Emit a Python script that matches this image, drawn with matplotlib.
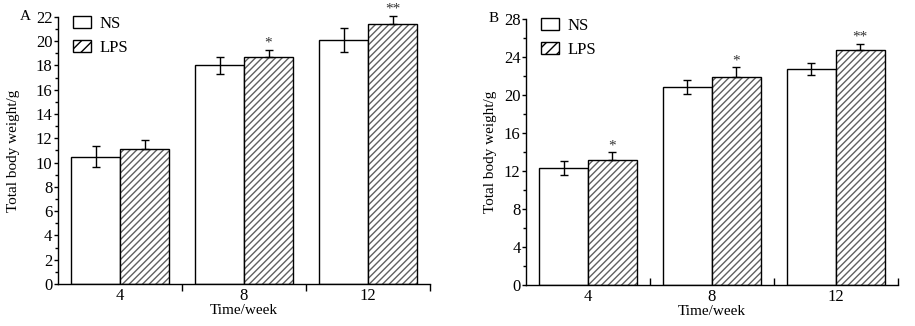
import numpy as np
import matplotlib
matplotlib.use("Agg")
import matplotlib.pyplot as plt
from matplotlib.patches import Patch
from matplotlib.ticker import MultipleLocator, FixedLocator, NullFormatter

plt.rcParams['font.family'] = ['Liberation Serif', 'DejaVu Serif']
plt.rcParams['hatch.linewidth'] = 1.0

# data
weeks = ['4', '8', '12']
a_ns = [10.5, 18.0, 20.1]
a_ns_err = [0.9, 0.7, 0.95]
a_lps = [11.1, 18.7, 21.4]
a_lps_err = [0.75, 0.6, 0.7]
a_marks = ['', '*', '**']

b_ns = [12.3, 20.8, 22.7]
b_ns_err = [0.7, 0.75, 0.65]
b_lps = [13.2, 21.9, 24.7]
b_lps_err = [0.75, 1.0, 0.7]
b_marks = ['*', '*', '**']

fig = plt.figure(figsize=(9.15, 3.26), dpi=100)
axA = fig.add_axes([0.0634, 0.129, 0.4066, 0.819])
axB = fig.add_axes([0.575, 0.126, 0.406, 0.816])

w = 0.395
x = np.arange(len(weeks))


def draw(ax, ns, ns_err, lps, lps_err, marks, ymax, major, minor, label, tickdir, ypad):
    ekw = dict(ecolor='black', elinewidth=1.0, capsize=3, capthick=1.0)
    ax.bar(x - w / 2, ns, w, color='white', edgecolor='black', linewidth=1.0,
           yerr=ns_err, error_kw=ekw)
    # hatched fill then black outline
    ax.bar(x + w / 2, lps, w, color='white', edgecolor='#606060', hatch='/////', linewidth=0)
    c = ax.bar(x + w / 2, lps, w, fill=False, edgecolor='black', linewidth=1.0,
               yerr=[np.zeros(len(lps)), lps_err], error_kw=ekw)
    for art in c.errorbar.lines[1] + c.errorbar.lines[2]:
        art.set_clip_on(False)
    for xi, v, e, m in zip(x, lps, lps_err, marks):
        if m:
            ax.annotate(m, (xi + w / 2, v + e), xytext=(0, 0), textcoords='offset points',
                        ha='center', va='bottom', fontsize=11, color='#333333',
                        annotation_clip=False)

    ax.set_xlim(-0.5, 2.5)
    ax.set_ylim(0, ymax)
    ax.yaxis.set_major_locator(MultipleLocator(major))
    ax.yaxis.set_minor_locator(MultipleLocator(minor))
    ax.set_xticks(x)
    ax.set_xticklabels(weeks)
    ax.xaxis.set_minor_locator(FixedLocator([0.5, 1.5, 2.5]))
    ax.xaxis.set_minor_formatter(NullFormatter())
    ax.tick_params(axis='x', which='major', length=0, labelsize=12, pad=3)
    ax.tick_params(axis='x', which='minor', length=5, direction=tickdir, width=1.0)
    ax.tick_params(axis='y', which='major', length=3, width=1.0, labelsize=12, pad=1)
    ax.tick_params(axis='y', which='minor', length=2, width=1.0)
    for s in ['top', 'right']:
        ax.spines[s].set_visible(False)
    for s in ['left', 'bottom']:
        ax.spines[s].set_linewidth(1.0)
    ax.set_ylabel('Total body weight/g', fontsize=11, labelpad=ypad)
    ax.set_xlabel('Time/week', fontsize=11, labelpad=0)
    ax.text(-0.102, 1.0, label, transform=ax.transAxes, fontsize=11, ha='left', va='center')

    handles = [Patch(facecolor='white', edgecolor='black', linewidth=1.0),
               Patch(facecolor='white', edgecolor='black', linewidth=1.0, hatch='///')]
    ax.legend(handles, ['NS', 'LPS'], loc='upper left', bbox_to_anchor=(0.04, 1.005),
              frameon=False, fontsize=12, handlelength=1.1, handleheight=0.75,
              handletextpad=0.5, labelspacing=0.5, borderpad=0, borderaxespad=0)


draw(axA, a_ns, a_ns_err, a_lps, a_lps_err, a_marks, 22, 2, 1, 'A', 'out', 11)
draw(axB, b_ns, b_ns_err, b_lps, b_lps_err, b_marks, 28, 4, 2, 'B', 'in', 5)

fig.savefig('out.png', dpi=100)
